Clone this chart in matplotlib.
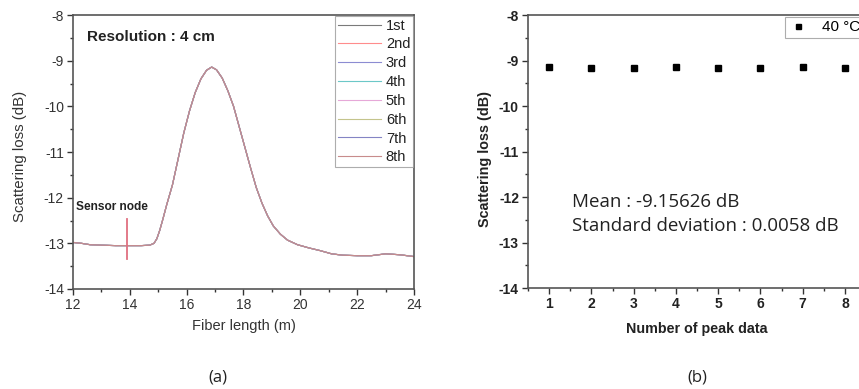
import matplotlib
matplotlib.use("Agg")
import matplotlib.pyplot as plt
from matplotlib.ticker import MultipleLocator

# ---- data ----
fiber_len = [12.0, 12.3, 12.6, 13.0, 13.5, 14.0, 14.4, 14.7, 14.85, 14.95, 15.05, 15.15,
             15.3, 15.5, 15.7, 15.9, 16.1, 16.3, 16.5, 16.7, 16.88, 17.05, 17.25, 17.45,
             17.65, 17.85, 18.05, 18.25, 18.45, 18.65, 18.85, 19.05, 19.3, 19.55, 19.9,
             20.3, 20.7, 21.1, 21.5, 22.0, 22.5, 23.0, 23.5, 24.0]
scat_loss = [-12.98, -13.00, -13.03, -13.04, -13.05, -13.05, -13.05, -13.04, -13.00, -12.90,
             -12.72, -12.50, -12.15, -11.72, -11.15, -10.58, -10.10, -9.70, -9.40, -9.21,
             -9.14, -9.20, -9.38, -9.66, -10.00, -10.45, -10.90, -11.35, -11.78, -12.12,
             -12.40, -12.62, -12.80, -12.93, -13.03, -13.10, -13.16, -13.23, -13.26, -13.27,
             -13.27, -13.23, -13.25, -13.29]
run_labels = ["1st", "2nd", "3rd", "4th", "5th", "6th", "7th", "8th"]
run_colors = ["#7a7a7a", "#ff8c8c", "#8c8cd2", "#6cc8c8", "#e6a8d8", "#c4c48c", "#8484c4", "#c88c8c"]

peak_idx = [1, 2, 3, 4, 5, 6, 7, 8]
peak_val = [-9.150, -9.160, -9.160, -9.150, -9.160, -9.160, -9.150, -9.160]

W, H = 859, 389
fig = plt.figure(figsize=(W / 100, H / 100), dpi=100)

SANS = ["Liberation Sans", "DejaVu Sans"]
plt.rcParams["font.family"] = SANS
plt.rcParams["axes.unicode_minus"] = False

def ax_rect(l, t, r, b):
    return [l / W, 1 - b / H, (r - l) / W, (b - t) / H]

spine_col = "#555555"

# ---- panel (a) ----
ax1 = fig.add_axes(ax_rect(73, 15, 414, 289))
for lab, col in zip(run_labels, run_colors):
    ax1.plot(fiber_len, scat_loss, color=col, lw=0.8, label=lab)
ax1.set_xlim(12, 24)
ax1.set_ylim(-14, -8)
ax1.xaxis.set_major_locator(MultipleLocator(2))
ax1.xaxis.set_minor_locator(MultipleLocator(1))
ax1.yaxis.set_major_locator(MultipleLocator(1))
ax1.yaxis.set_minor_locator(MultipleLocator(0.5))
ax1.tick_params(which="major", direction="out", length=4, width=1, labelsize=10, pad=2.5,
                colors="#333333", labelcolor="#333333")
ax1.tick_params(which="minor", direction="out", length=2.5, width=1, colors="#333333")
for s in ax1.spines.values():
    s.set_color(spine_col)
    s.set_linewidth(1.2)
ax1.set_xlabel("Fiber length (m)", fontsize=10.5, color="#333333", labelpad=5)
ax1.set_ylabel("Scattering loss (dB)", fontsize=10.8, color="#333333")
ax1.yaxis.set_label_coords(-0.135, 0.485)
ax1.text(12.5, -8.48, "Resolution : 4 cm", fontsize=11, fontweight="bold",
         color="#222222", va="center", ha="left")
ax1.text(12.1, -12.2, "Sensor node", fontsize=8.6, fontweight="bold",
         color="#222222", va="center", ha="left")
ax1.plot([13.89, 13.89], [-12.47, -13.35], color="#e07080", lw=1.3)
leg1 = ax1.legend(loc="upper right", fontsize=10.5, frameon=True, fancybox=False,
                  borderaxespad=0.05, handlelength=3.0, handletextpad=0.3,
                  labelspacing=0.33, borderpad=0.2)
leg1.get_frame().set_edgecolor("#999999")
leg1.get_frame().set_linewidth(0.8)
for t in leg1.get_texts():
    t.set_color("#222222")

# ---- panel (b) ----
ax2 = fig.add_axes(ax_rect(528, 15, 866, 288))
ax2.plot(peak_idx, peak_val, ls="none", marker="s", ms=4.5, color="black", label="40 °C")
ax2.set_xlim(0.5, 8.5)
ax2.set_ylim(-14, -8)
ax2.xaxis.set_major_locator(MultipleLocator(1))
ax2.xaxis.set_minor_locator(MultipleLocator(0.5))
ax2.yaxis.set_major_locator(MultipleLocator(1))
ax2.yaxis.set_minor_locator(MultipleLocator(0.5))
ax2.tick_params(which="major", direction="out", length=4, width=1, labelsize=10, pad=2.5,
                colors="#333333", labelcolor="#222222")
ax2.tick_params(which="minor", direction="out", length=2.5, width=1, colors="#333333")
for lab in ax2.get_xticklabels() + ax2.get_yticklabels():
    lab.set_fontweight("bold")
for s in ax2.spines.values():
    s.set_color(spine_col)
    s.set_linewidth(1.2)
ax2.set_xlabel("Number of peak data", fontsize=10.3, fontweight="bold", color="#222222", labelpad=8)
ax2.set_ylabel("Scattering loss (dB)", fontsize=10.4, fontweight="bold", color="#222222")
ax2.yaxis.set_label_coords(-0.107, 0.473)
stat_font = ["Open Sans", "DejaVu Sans"]
ax2.text(1.54, -12.12, "Mean : -9.15626 dB", fontsize=13.5, family=stat_font,
         color="#222222", va="center", ha="left")
ax2.text(1.54, -12.63, "Standard deviation : 0.0058 dB", fontsize=13.5, family=stat_font,
         color="#222222", va="center", ha="left")
leg2 = ax2.legend(loc="upper right", fontsize=11, frameon=True, fancybox=False,
                  borderaxespad=0.1, handlelength=1.2, handletextpad=1.0,
                  borderpad=0.25, markerscale=0.8)
leg2.get_frame().set_edgecolor("#999999")
leg2.get_frame().set_linewidth(0.8)

# ---- panel captions ----
fig.text(218 / W, 1 - 377 / H, "(a)", fontsize=12, family=stat_font, ha="center", va="center",
         color="#222222")
fig.text(697 / W, 1 - 377 / H, "(b)", fontsize=12, family=stat_font, ha="center", va="center",
         color="#222222")

fig.savefig("out.png", dpi=100)
